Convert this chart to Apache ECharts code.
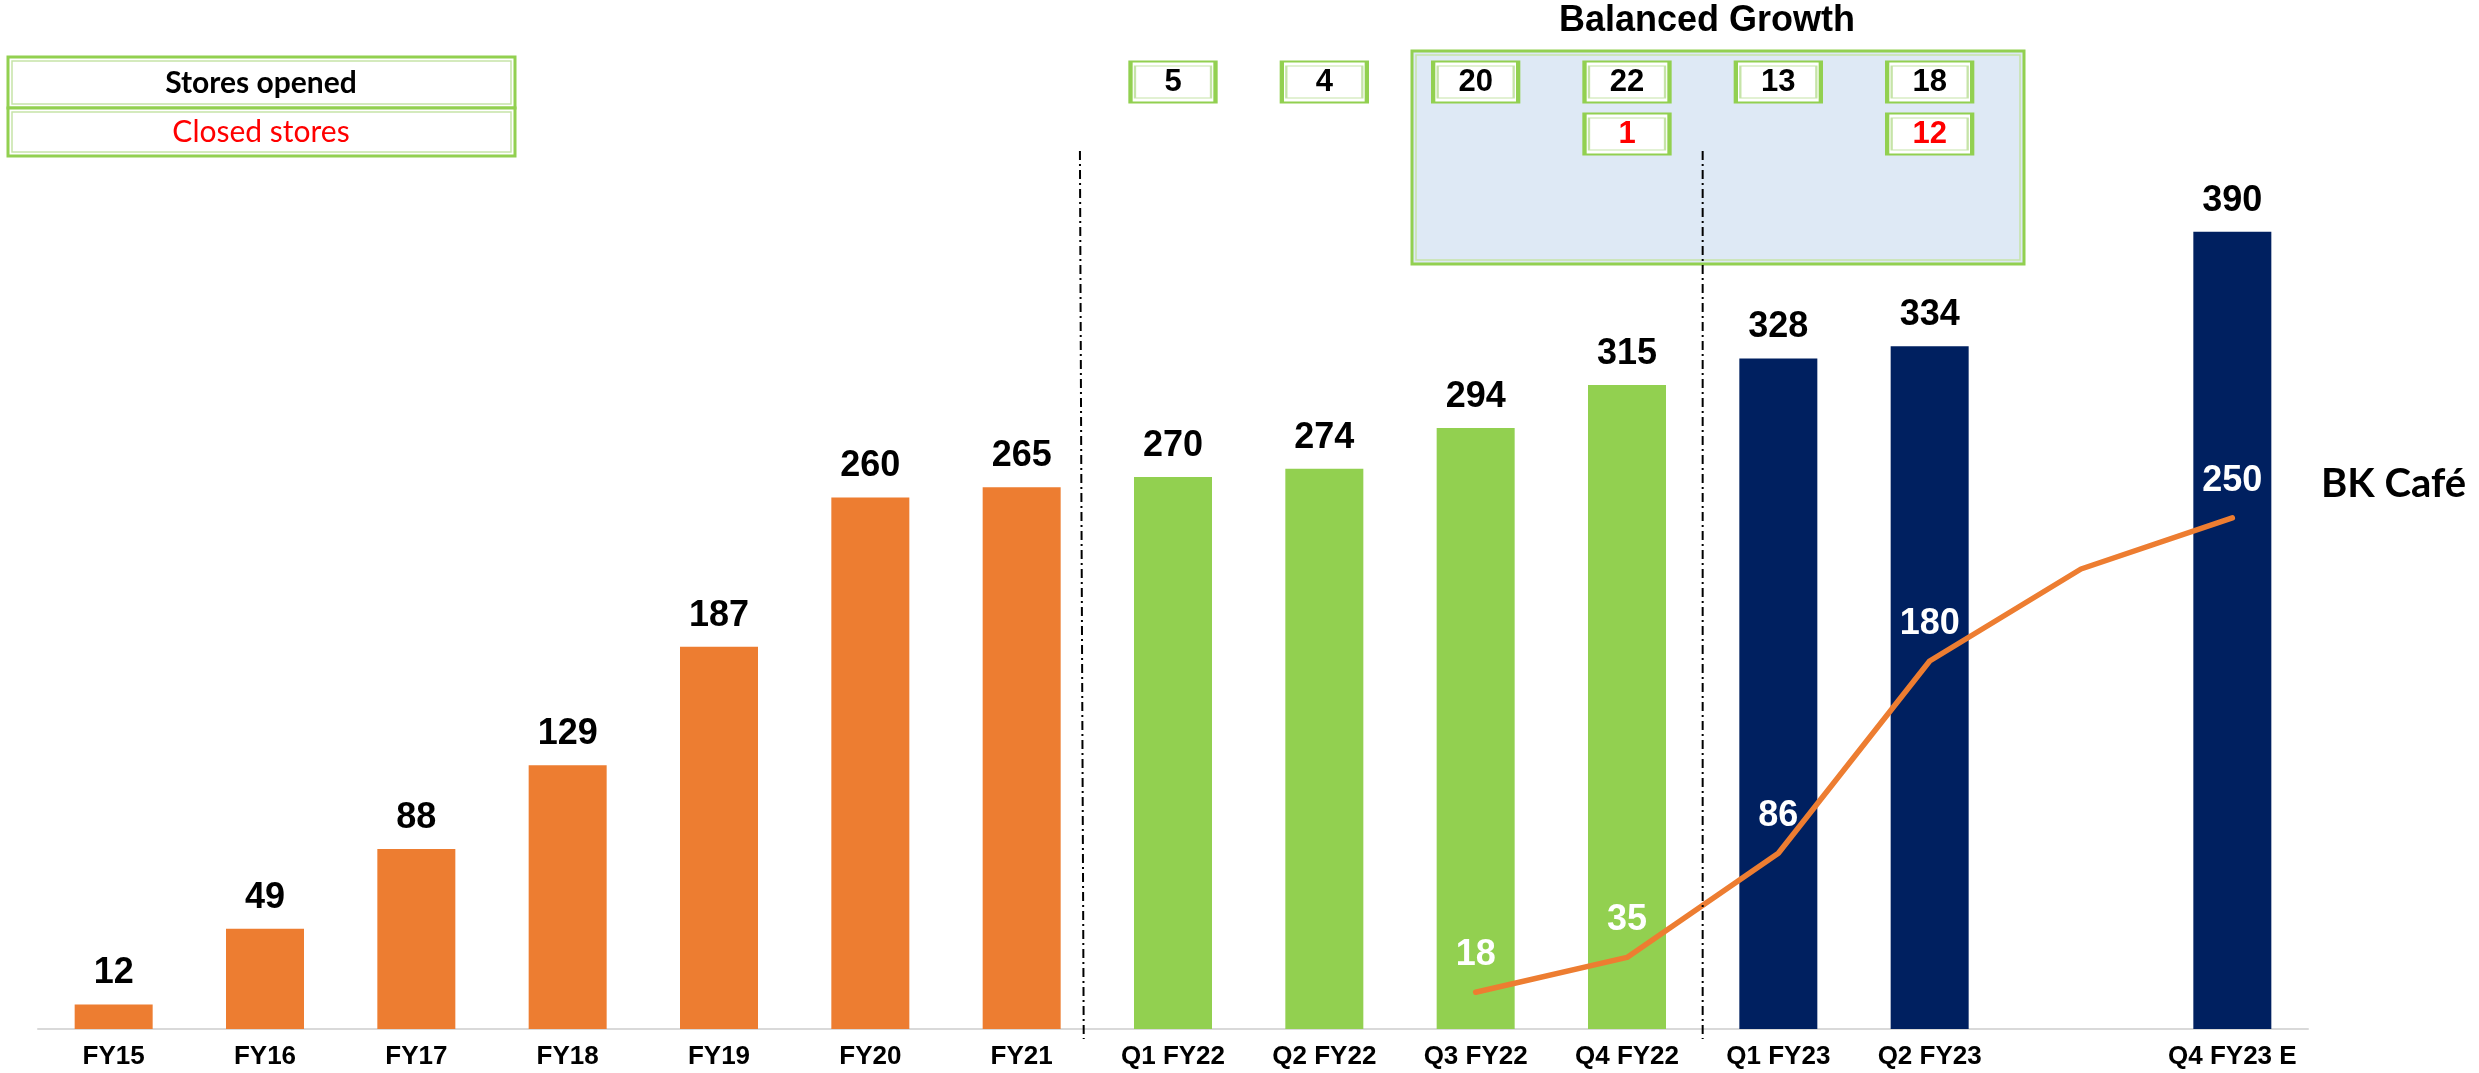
<!DOCTYPE html>
<html>
<head>
<meta charset="utf-8">
<script src="https://cdn.jsdelivr.net/npm/echarts@6/dist/echarts.min.js"></script>
<style>
  html, body { margin: 0; padding: 0; background: #fff; }
  #chart { width: 2479px; height: 1073px; }
</style>
</head>
<body>
<div id="chart"></div>
<script>
const categories = ["FY15", "FY16", "FY17", "FY18", "FY19", "FY20", "FY21",
  "Q1 FY22", "Q2 FY22", "Q3 FY22", "Q4 FY22", "Q1 FY23", "Q2 FY23", "", "Q4 FY23 E"];
const storeCounts = [12, 49, 88, 129, 187, 260, 265, 270, 274, 294, 315, 328, 334, null, 390];
const periods = ["FY", "FY", "FY", "FY", "FY", "FY", "FY",
  "FY22", "FY22", "FY22", "FY22", "FY23", "FY23", "FY23", "FY23"];
const bkCafe = [null, null, null, null, null, null, null, null, null, 18, 35, 86, 180, 225, 250];
const storesOpened = [null, null, null, null, null, null, null, 5, 4, 20, 22, 13, 18, null, null];
const storesClosed = [null, null, null, null, null, null, null, null, null, null, 1, null, 12, null, null];
const rowNames = ["Stores opened", "Closed stores"];

const periodColor = { FY: "#ED7D31", FY22: "#92D050", FY23: "#002060" };
const ARIAL = "Arial, 'Liberation Sans', sans-serif";
const GREEN = "#92D050";
const PALE_GREEN = "#C6E4A8";

const chart = echarts.init(document.querySelector("#chart"));

function boxSeries(values, row, color) {
  const data = values.map((v, i) => v === null ? null : { value: [i, row, v] }).filter(d => d);
  return [
    {
      type: "scatter",
      xAxisIndex: 1,
      yAxisIndex: 1,
      symbol: "rect",
      symbolSize: [85, 41],
      itemStyle: { color: "#fff", borderColor: GREEN, borderWidth: 3, opacity: 1 },
      label: {
        show: true,
        position: "inside",
        formatter: p => p.value[2],
        color: color,
        fontFamily: ARIAL,
        fontWeight: "bold",
        fontSize: 31
      },
      silent: true,
      z: 5,
      data: data
    },
    {
      type: "scatter",
      xAxisIndex: 1,
      yAxisIndex: 1,
      symbol: "rect",
      symbolSize: [76, 32],
      itemStyle: { color: "rgba(0,0,0,0)", borderColor: PALE_GREEN, borderWidth: 1.5, opacity: 1 },
      silent: true,
      z: 6,
      data: data
    }
  ];
}

chart.setOption({
  animation: false,
  grid: [
    { left: 38, right: 171, top: 109, bottom: 44 },
    { left: 38, right: 171, top: 56, height: 104 }
  ],
  xAxis: [
    {
      type: "category",
      gridIndex: 0,
      data: categories,
      axisLine: { lineStyle: { color: "#D9D9D9", width: 2 } },
      axisTick: { show: false },
      axisLabel: {
        interval: 0,
        margin: 15,
        color: "#000",
        fontFamily: ARIAL,
        fontWeight: "bold",
        fontSize: 26
      }
    },
    { type: "category", gridIndex: 1, data: categories, show: false }
  ],
  yAxis: [
    { type: "value", gridIndex: 0, min: 0, max: 450, show: false },
    { type: "category", gridIndex: 1, data: rowNames, inverse: true, show: false }
  ],
  series: [
    {
      type: "bar",
      barWidth: 78,
      data: storeCounts.map((v, i) => ({
        value: v,
        itemStyle: { color: periodColor[periods[i]] }
      })),
      label: {
        show: true,
        position: "top",
        distance: 13,
        color: "#000",
        fontFamily: ARIAL,
        fontWeight: "bold",
        fontSize: 36
      },
      z: 2
    },
    {
      type: "line",
      name: "BK Café",
      data: bkCafe.map((v, i) => ({
        value: v,
        label: { show: categories[i] !== "" }
      })),
      showSymbol: true,
      symbol: "circle",
      symbolSize: 2,
      itemStyle: { color: "#ED7D31" },
      lineStyle: { color: "#ED7D31", width: 5.5, cap: "round", join: "round" },
      label: {
        show: true,
        position: "top",
        distance: 18,
        color: "#fff",
        fontFamily: ARIAL,
        fontWeight: "bold",
        fontSize: 36
      },
      z: 4
    },
    ...boxSeries(storesOpened, 0, "#000"),
    ...boxSeries(storesClosed, 1, "#FF0000")
  ]
});

// divider and annotation overlays, placed relative to the category axis
const centre = i => chart.convertToPixel({ xAxisIndex: 0 }, i);
const lerp = (a, b, t) => a + (b - a) * t;
const div1Top = lerp(centre(6), centre(7), 0.385);
const div1Bottom = lerp(centre(6), centre(7), 0.41);
const div2 = lerp(centre(10), centre(11), 0.5);

function doubleRect(x, y, w, h, fill) {
  return [
    { type: "rect", shape: { x: x, y: y, width: w, height: h },
      style: { fill: fill, stroke: GREEN, lineWidth: 3 }, z: 1 },
    { type: "rect", shape: { x: x + 4, y: y + 4, width: w - 8, height: h - 8 },
      style: { fill: null, stroke: PALE_GREEN, lineWidth: 1.5 }, z: 1 }
  ];
}

chart.setOption({
  graphic: [
    ...doubleRect(1412, 51, 612, 213, "#DEE9F5"),
    ...doubleRect(8, 57, 507, 51, "#fff"),
    ...doubleRect(8, 108, 507, 48, "#fff"),
    {
      type: "text", z: 3,
      style: { text: "Stores opened", x: 261, y: 83, align: "center", verticalAlign: "middle",
        fill: "#000", fontFamily: "Lato, 'Open Sans', sans-serif", fontWeight: "bold", fontSize: 30 }
    },
    {
      type: "text", z: 3,
      style: { text: "Closed stores", x: 261, y: 132, align: "center", verticalAlign: "middle",
        fill: "#FF0000", fontFamily: "Lato, 'Open Sans', sans-serif", fontSize: 30 }
    },
    {
      type: "text", z: 3,
      style: { text: "Balanced Growth", x: 1707, y: 21, align: "center", verticalAlign: "middle",
        fill: "#000", fontFamily: ARIAL, fontWeight: "bold", fontSize: 36 }
    },
    {
      type: "text", z: 3,
      style: { text: "BK Café", x: 2321, y: 484, align: "left", verticalAlign: "middle",
        fill: "#000", fontFamily: "Lato, 'Open Sans', sans-serif", fontWeight: "bold", fontSize: 40 }
    },
    {
      type: "line", z: 10,
      shape: { x1: div1Top, y1: 151, x2: div1Bottom, y2: 1039 },
      style: { stroke: "#000", lineWidth: 2, lineDash: [9, 4, 2, 4] }
    },
    {
      type: "line", z: 10,
      shape: { x1: div2, y1: 151, x2: div2, y2: 1039 },
      style: { stroke: "#000", lineWidth: 2, lineDash: [9, 4, 2, 4] }
    }
  ]
});
</script>
</body>
</html>
